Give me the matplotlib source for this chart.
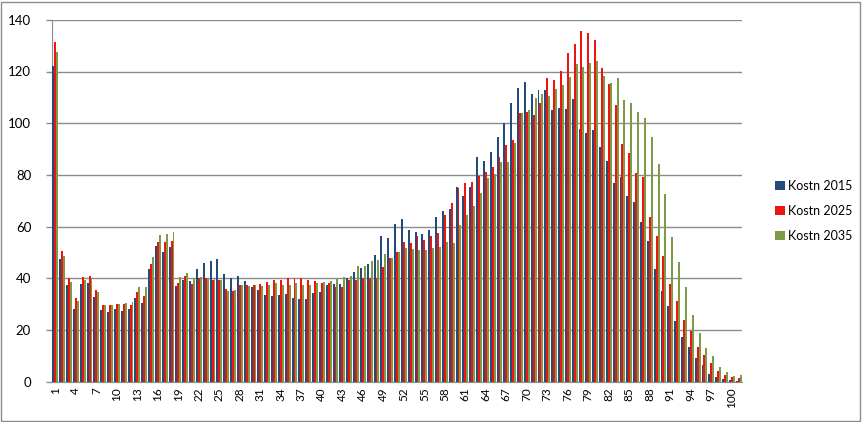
import matplotlib
matplotlib.use("Agg")
import matplotlib.pyplot as plt
import numpy as np
from matplotlib.patches import Rectangle

plt.rcParams['font.family'] = ['Lato', 'DejaVu Sans']

ages = list(range(1, 102))
tick_labels = [str(a) for a in range(1, 101, 3)]
series_names = ["Kostn 2015", "Kostn 2025", "Kostn 2035"]

kostn_2015 = [122.3, 47.6, 37.3, 28.3, 37.7, 38, 32.6, 27.7, 27, 28.3,
              27.5, 28, 32.5, 30.5, 43.5, 52.5, 50.3, 52.3, 37, 39.4,
              39.1, 43.6, 45.8, 46.8, 47.4, 41.7, 40, 41, 39, 36.5,
              35.5, 33.5, 33, 33.5, 34, 32.5, 32, 32, 34.3, 34.6,
              37.5, 37.8, 37.8, 40, 42.6, 44, 45.5, 49, 56.5, 55.5,
              61, 63, 58.8, 57.8, 57, 58.5, 63.6, 66.2, 67, 75.5,
              72, 75.5, 86.8, 85.5, 88.8, 94.6, 100.1, 107.9, 113.7, 116.1,
              111.4, 112.9, 112.9, 105.2, 105.7, 105.4, 109.3, 97.7, 96.1, 97.3,
              90.6, 85.4, 77, 79, 72, 69.5, 61.7, 54.6, 43.6, 35.2,
              29.4, 23.5, 17.2, 13.3, 9, 6.5, 3, 2, 1, 0.6,
              0.4]
kostn_2025 = [131.3, 50.4, 40.2, 32.2, 40.5, 40.8, 35.4, 29.6, 29.6, 30,
              30, 29.5, 34.6, 33, 45.5, 54.2, 54.2, 54.5, 38, 41,
              37.7, 40, 40, 39.4, 39.4, 36, 35, 37.5, 37.5, 37.5,
              37.8, 38.5, 39.5, 39.5, 40, 40, 40, 39.5, 39, 38,
              38, 36.5, 36.5, 39.5, 39.5, 40, 40, 40, 44.3, 48,
              50.3, 54, 53.5, 56.5, 54.8, 56.3, 57.5, 64.6, 69, 74.8,
              76.8, 77.4, 79.5, 81.3, 83, 86.8, 91.6, 93.5, 103.9, 104.3,
              103.2, 108, 117.3, 116.6, 120.3, 127, 130.6, 135.7, 134.8, 132.1,
              121.5, 115.1, 107, 92.1, 88.6, 80.9, 79.2, 63.6, 56.5, 48.5,
              37.8, 31.4, 23.9, 19.7, 13.5, 10.3, 7.1, 4.3, 2.6, 1.7,
              1.5]
kostn_2035 = [127.4, 48.5, 38.6, 31.1, 39.5, 39.8, 34.7, 29.6, 29.7, 30.2,
              30.5, 30.7, 36.5, 36.5, 48.1, 56.8, 57.2, 58.1, 40.4, 41.9,
              40, 40.4, 40, 40, 39.4, 35, 35.5, 37.5, 37, 37.5,
              37.2, 37.3, 38.2, 37.3, 37.3, 38, 37.3, 37.3, 38.3, 38.7,
              39, 39.7, 40.6, 41, 44.6, 44.6, 46.8, 47, 49.4, 47.7,
              50.3, 51.6, 51.4, 51, 51, 51.6, 52.3, 54, 53.5, 60.8,
              64.3, 67.9, 72.9, 78.8, 80.4, 84.9, 84.9, 92.3, 104, 105.2,
              109.8, 111.2, 110.6, 113.2, 114.8, 118, 122.8, 121.8, 123.1, 123.9,
              118.1, 115.4, 117.4, 108.9, 108, 104.5, 101.9, 94.8, 84.3, 72.6,
              56.1, 46.2, 36.5, 25.8, 18.7, 13.2, 9.9, 5.5, 3.6, 2.2,
              2.5]

colors = ["#254A7C", "#EE1410", "#7D9A44"]

fig = plt.figure(figsize=(8.63, 4.22), dpi=100)
ax = fig.add_axes([52 / 863, 1 - 381.7 / 422, 690 / 863, (381.7 - 19.8) / 422])

x = np.arange(1, len(ages) + 1)
w = 0.285
for i, (vals, c, name) in enumerate(zip([kostn_2015, kostn_2025, kostn_2035], colors, series_names)):
    ax.bar(x + (i - 1) * w, vals, width=w, color=c, label=name, zorder=3, linewidth=0)

ax.set_xlim(0.5, len(ages) + 0.5)
ax.set_ylim(0, 140)
ax.set_yticks(np.arange(0, 141, 20))
ax.yaxis.grid(True, color="#8C8C8C", linewidth=1.0, zorder=0)
ax.set_axisbelow(True)

ax.set_xticks(np.arange(1, 101, 3))
ax.set_xticklabels(tick_labels, rotation=90, fontsize=8.5)
ax.tick_params(axis="x", length=0, pad=4)
ax.tick_params(axis="y", length=4, width=1.0, color="#8C8C8C", labelsize=9.5, pad=11)

for s in ["top", "right"]:
    ax.spines[s].set_visible(False)
ax.spines["left"].set_color("#8C8C8C")
ax.spines["bottom"].set_color("#8C8C8C")

leg = fig.legend(loc="center left", bbox_to_anchor=(764 / 863, 1 - 211 / 422),
                 frameon=False, fontsize=9, handlelength=0.75, handleheight=0.75,
                 handletextpad=0.3, labelspacing=1.05)

fig.patches.append(Rectangle((1.2 / 863, 1.5 / 422), 858.3 / 863, 419 / 422,
                             transform=fig.transFigure, fill=False,
                             edgecolor="#8C8C8C", linewidth=1.0))

fig.savefig("out.png", dpi=100)
